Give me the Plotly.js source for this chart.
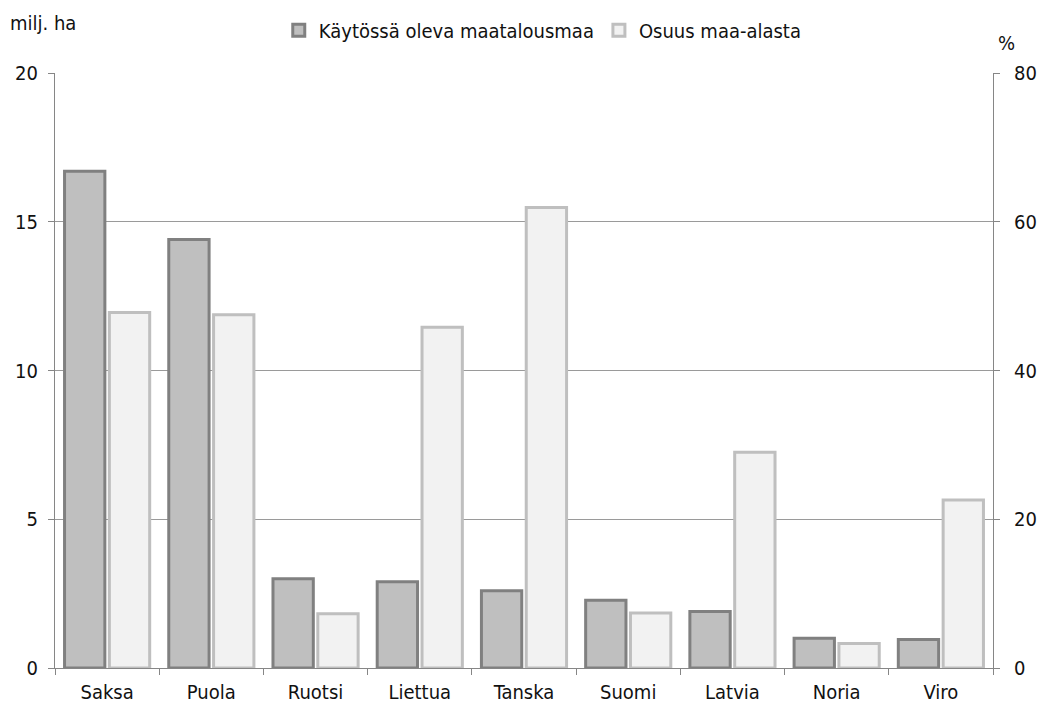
<!DOCTYPE html>
<html>
<head>
<meta charset="utf-8">
<script src="https://cdn.plot.ly/plotly-3.0.1.min.js"></script>
<style>html,body{margin:0;padding:0;background:#fff;}#chart{width:1038px;height:704px;}</style>
</head>
<body>
<div id="chart"></div>
<script>
var categories = ["Saksa", "Puola", "Ruotsi", "Liettua", "Tanska", "Suomi", "Latvia", "Noria", "Viro"];
var areaMha = [16.7, 14.4, 3.0, 2.9, 2.6, 2.28, 1.9, 1.0, 0.96];
var sharePct = [47.8, 47.5, 7.3, 45.8, 61.9, 7.4, 29.0, 3.3, 22.6];
var seriesNames = ["Käytössä oleva maatalousmaa", "Osuus maa-alasta"];
var leftTicks = [0, 5, 10, 15, 20];
var rightTicks = [0, 20, 40, 60, 80];

var FONT = "'Liberation Sans Narrow', 'DejaVu Sans Condensed', 'Open Sans', sans-serif";
var FS = 20;
var axisCol = "#868686";
var txtCol = "#111111";

var traces = [
  {
    type: "bar", name: seriesNames[0], x: categories, y: areaMha,
    yaxis: "y", offsetgroup: "a",
    marker: {color: "#bfbfbf", line: {color: "#808080", width: 3}}
  },
  {
    type: "bar", name: seriesNames[1], x: categories, y: sharePct,
    yaxis: "y2", offsetgroup: "b",
    marker: {color: "#f2f2f2", line: {color: "#bfbfbf", width: 3}}
  }
];

var layout = {
  width: 1038, height: 704,
  margin: {l: 55, r: 45, t: 72, b: 36},
  paper_bgcolor: "#fff", plot_bgcolor: "#fff",
  font: {family: FONT, size: FS, color: txtCol},
  barmode: "group", bargap: 0.14, bargroupgap: 0.1,
  showlegend: true,
  legend: {orientation: "h", x: 0.52, xanchor: "center", y: 1.07, yanchor: "middle",
           font: {family: FONT, size: FS, color: txtCol}, itemwidth: 30, tracegroupgap: 0},
  xaxis: {
    type: "category", showline: true, linecolor: axisCol, linewidth: 1,
    ticks: "outside", tickson: "boundaries", ticklen: 6, tickcolor: axisCol,
    ticklabelstandoff: 6,
    showgrid: false, tickfont: {family: FONT, size: FS, color: txtCol}
  },
  yaxis: {
    range: [0, 20], tickvals: leftTicks, showline: true, linecolor: axisCol,
    ticks: "outside", ticklen: 6, tickcolor: axisCol, ticklabelstandoff: 6,
    showgrid: true, gridcolor: "#9a9a9a", gridwidth: 1, zeroline: false,
    tickfont: {family: FONT, size: FS, color: txtCol}
  },
  yaxis2: {
    range: [0, 80], tickvals: rightTicks, overlaying: "y", side: "right",
    showline: true, linecolor: axisCol, ticks: "outside", ticklen: 6, tickcolor: axisCol,
    ticklabelstandoff: 10,
    showgrid: false, zeroline: false,
    tickfont: {family: FONT, size: FS, color: txtCol}
  },
  annotations: [
    {text: "milj. ha", xref: "paper", yref: "paper", x: -0.05, y: 1.084,
     xanchor: "left", yanchor: "middle", showarrow: false,
     font: {family: FONT, size: FS, color: txtCol}},
    {text: "%", xref: "paper", yref: "paper", x: 1.014, y: 1.05,
     xanchor: "center", yanchor: "middle", showarrow: false,
     font: {family: FONT, size: FS, color: txtCol}}
  ]
};

Plotly.newPlot("chart", traces, layout, {displayModeBar: false, staticPlot: true});
</script>
</body>
</html>
